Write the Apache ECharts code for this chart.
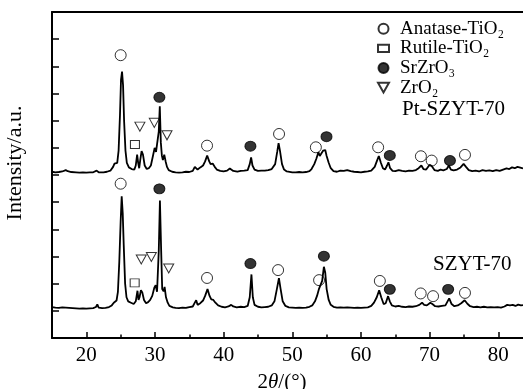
<!DOCTYPE html>
<html>
<head>
<meta charset="utf-8">
<script src="https://cdn.jsdelivr.net/npm/echarts@6/dist/echarts.min.js"></script>
<style>html,body{margin:0;padding:0;background:#fff}#c{width:523px;height:389px}</style>
</head>
<body>
<div id="c"></div>
<script>
// 2θ (degrees) and intensity (a.u., offset stacked) for Pt-SZYT-70
const ptSzyt70 = [
[15.0,6.12],[15.5,6.10],[16.0,6.11],[16.5,6.13],[17.0,6.18],[17.3,6.14],[17.8,6.11],[18.5,6.10],[19.0,6.09],[19.5,6.10],
[20.0,6.09],[20.5,6.10],[21.0,6.10],[21.5,6.16],[21.8,6.10],[22.5,6.10],[23.0,6.12],[23.5,6.16],[23.9,6.30],[24.1,6.42],
[24.3,6.35],[24.5,6.45],[24.7,6.9],[24.9,8.2],[25.05,9.5],[25.2,9.81],[25.35,9.3],[25.5,8.0],[25.7,6.9],[25.9,6.45],
[26.2,6.28],[26.6,6.22],[27.0,6.20],[27.2,6.35],[27.4,6.75],[27.55,6.45],[27.7,6.25],[27.85,6.55],[28.05,6.88],[28.25,6.75],
[28.5,6.35],[28.8,6.22],[29.1,6.25],[29.4,6.35],[29.7,6.70],[29.95,7.0],[30.15,6.85],[30.35,6.80],[30.55,7.6],[30.7,8.53],
[30.85,7.2],[31.0,6.72],[31.15,6.55],[31.35,6.75],[31.55,6.50],[31.75,6.30],[32.0,6.18],[32.5,6.12],[33.0,6.10],[33.5,6.09],
[34.0,6.10],[34.5,6.12],[35.0,6.11],[35.5,6.15],[35.8,6.30],[36.0,6.36],[36.2,6.20],[36.6,6.28],[37.0,6.35],[37.3,6.50],
[37.6,6.72],[37.9,6.50],[38.1,6.40],[38.4,6.42],[38.7,6.30],[39.0,6.20],[39.5,6.15],[40.0,6.13],[40.5,6.16],[40.9,6.24],
[41.1,6.26],[41.4,6.15],[42.0,6.12],[42.5,6.15],[43.0,6.16],[43.5,6.18],[43.8,6.40],[44.0,6.65],[44.2,6.35],[44.5,6.20],
[45.0,6.15],[45.5,6.16],[46.0,6.16],[46.5,6.18],[47.0,6.22],[47.5,6.40],[47.8,6.85],[48.0,7.17],[48.2,6.90],[48.5,6.40],
[48.8,6.20],[49.2,6.13],[50.0,6.10],[50.5,6.10],[51.0,6.11],[51.5,6.10],[52.0,6.11],[52.5,6.14],[52.8,6.22],[53.2,6.40],
[53.5,6.60],[53.8,6.84],[54.0,6.70],[54.2,6.75],[54.5,6.90],[54.8,6.92],[55.0,6.70],[55.3,6.45],[55.6,6.25],[56.0,6.14],
[56.5,6.12],[57.0,6.16],[57.5,6.15],[58.0,6.18],[58.5,6.14],[59.0,6.12],[59.5,6.11],[60.0,6.10],[60.5,6.12],[61.0,6.13],
[61.5,6.16],[62.0,6.30],[62.3,6.50],[62.6,6.70],[62.9,6.45],[63.2,6.25],[63.5,6.20],[63.8,6.35],[64.0,6.47],[64.25,6.25],
[64.6,6.15],[65.0,6.14],[65.5,6.18],[66.0,6.15],[66.5,6.13],[67.0,6.16],[67.5,6.15],[68.0,6.18],[68.4,6.25],[68.8,6.35],
[69.1,6.22],[69.5,6.20],[70.0,6.38],[70.3,6.33],[70.7,6.18],[71.2,6.15],[71.6,6.20],[72.0,6.17],[72.5,6.22],[72.8,6.35],
[73.1,6.20],[73.5,6.17],[74.0,6.20],[74.5,6.28],[74.95,6.41],[75.3,6.30],[75.7,6.18],[76.2,6.14],[76.7,6.16],[77.2,6.13],
[77.7,6.18],[78.2,6.15],[78.7,6.17],[79.2,6.14],[79.7,6.18],[80.2,6.15],[80.7,6.20],[81.2,6.24],[81.6,6.22],[82.0,6.28],
[82.4,6.25],[82.8,6.30],[83.2,6.27],[83.6,6.24]
];
// 2θ (degrees) and intensity for SZYT-70
const szyt70 = [
[15.0,1.14],[15.5,1.12],[16.0,1.11],[16.5,1.13],[17.0,1.12],[17.5,1.11],[18.0,1.10],[18.5,1.09],[19.0,1.08],[19.5,1.09],
[20.0,1.08],[20.5,1.09],[21.0,1.10],[21.4,1.14],[21.6,1.24],[21.8,1.12],[22.3,1.10],[22.8,1.11],[23.3,1.14],[23.7,1.20],
[24.0,1.30],[24.2,1.33],[24.4,1.38],[24.6,1.70],[24.8,2.80],[25.0,4.3],[25.15,5.22],[25.3,4.6],[25.45,3.4],[25.65,2.0],
[25.85,1.50],[26.1,1.35],[26.5,1.30],[26.9,1.25],[27.2,1.35],[27.45,1.74],[27.6,1.40],[27.75,1.50],[27.95,1.76],[28.15,1.68],
[28.4,1.40],[28.7,1.28],[29.0,1.32],[29.3,1.40],[29.6,1.55],[29.9,1.85],[30.1,1.94],[30.3,1.70],[30.55,3.2],[30.72,5.06],
[30.9,3.2],[31.05,1.80],[31.25,1.72],[31.4,1.88],[31.6,1.50],[31.85,1.30],[32.1,1.18],[32.6,1.13],[33.0,1.11],[33.5,1.10],
[34.0,1.12],[34.5,1.11],[35.0,1.14],[35.5,1.16],[35.8,1.30],[36.0,1.39],[36.2,1.22],[36.6,1.28],[37.0,1.38],[37.3,1.55],
[37.65,1.80],[37.95,1.55],[38.2,1.42],[38.5,1.40],[38.8,1.30],[39.2,1.20],[39.7,1.15],[40.2,1.13],[40.7,1.16],[41.1,1.22],
[41.4,1.16],[41.9,1.13],[42.5,1.15],[43.0,1.14],[43.5,1.18],[43.8,1.50],[44.05,2.34],[44.25,1.50],[44.5,1.22],[45.0,1.15],
[45.5,1.13],[46.0,1.14],[46.5,1.15],[47.0,1.20],[47.4,1.35],[47.75,1.80],[48.05,2.20],[48.3,1.80],[48.6,1.35],[49.0,1.18],
[49.5,1.13],[50.0,1.12],[50.5,1.11],[51.0,1.12],[51.5,1.11],[52.0,1.12],[52.5,1.15],[52.9,1.20],[53.3,1.35],[53.6,1.55],
[53.9,1.82],[54.1,1.75],[54.35,2.10],[54.6,2.62],[54.8,2.40],[55.0,1.80],[55.3,1.40],[55.6,1.22],[56.0,1.15],[56.5,1.12],
[57.0,1.13],[57.5,1.12],[58.0,1.13],[58.5,1.12],[59.0,1.11],[59.5,1.12],[60.0,1.11],[60.5,1.12],[61.0,1.13],[61.5,1.18],
[61.9,1.30],[62.3,1.50],[62.65,1.76],[62.95,1.50],[63.3,1.25],[63.6,1.28],[63.95,1.54],[64.2,1.35],[64.5,1.20],[65.0,1.16],
[65.5,1.18],[66.0,1.15],[66.5,1.14],[67.0,1.16],[67.5,1.15],[68.0,1.17],[68.5,1.22],[68.9,1.30],[69.2,1.22],[69.6,1.20],
[70.1,1.30],[70.4,1.25],[70.8,1.17],[71.3,1.16],[71.8,1.18],[72.3,1.20],[72.85,1.46],[73.2,1.25],[73.6,1.17],[74.1,1.20],
[74.6,1.28],[75.1,1.39],[75.5,1.26],[75.9,1.17],[76.4,1.14],[76.9,1.15],[77.4,1.13],[77.9,1.15],[78.4,1.13],[78.9,1.14],
[79.4,1.13],[79.9,1.14],[80.4,1.12],[80.9,1.16],[81.3,1.22],[81.7,1.20],[82.1,1.22],[82.5,1.18],[82.9,1.23],[83.3,1.20],
[83.6,1.21]
];
// phase marker positions [2θ, height]
const anataseMarks = [[25.0,10.41],[37.58,7.08],[48.07,7.51],[53.43,7.02],[62.5,7.02],[68.73,6.69],[70.3,6.53],[75.15,6.74],
  [25.0,5.68],[37.58,2.21],[47.93,2.50],[53.9,2.13],[62.75,2.10],[68.7,1.64],[70.5,1.54],[75.15,1.66]];
const rutileMarks = [[27.08,7.12],[27.04,2.03]];
const srzro3Marks = [[30.64,8.86],[43.9,7.06],[54.98,7.41],[64.2,6.72],[72.96,6.53],
  [30.64,5.49],[43.9,2.74],[54.6,3.01],[64.2,1.79],[72.7,1.79]];
const zro2Marks = [[27.8,7.78],[29.9,7.92],[31.75,7.46],[28.0,2.89],[29.47,2.98],[32.0,2.56]];

const xTicks = [20,30,40,50,60,70,80];
const xMinorTicks = [25,35,45,55,65,75];
const sampleLabels = ['Pt-SZYT-70','SZYT-70'];
const phaseNames = ['Anatase-TiO₂','Rutile-TiO₂','SrZrO₃','ZrO₂'];

const FONT = '"Liberation Serif","Times New Roman",serif';
const chart = echarts.init(document.getElementById('c'), null, {renderer:'canvas'});
const triDown = 'path://M0,0L10,0L5,9Z';
const markStyle = (fill) => ({color: fill, borderColor:'#000', borderWidth:1});

chart.setOption({
  animation:false,
  backgroundColor:'#fff',
  grid:{left:52, top:12, right:0, bottom:51, outerBoundsMode:'none', containLabel:false},
  legend:{
    orient:'vertical', left:377, top:19, padding:0, itemGap:0, itemWidth:11, itemHeight:10,
    textStyle:{fontFamily:FONT, fontSize:19, color:'#000', lineHeight:19.6, padding:[0,0,0,6]},
    data:[
      {name:phaseNames[0], icon:'circle'},
      {name:phaseNames[1], icon:'path://M0,0H12V8H0Z'},
      {name:phaseNames[2], icon:'circle'},
      {name:phaseNames[3], icon:triDown}
    ]
  },
  xAxis:[
    {type:'value', min:15, max:83.6, position:'bottom',
     axisLine:{show:true, lineStyle:{color:'#000', width:2}},
     axisTick:{show:true, inside:true, length:6, lineStyle:{color:'#000', width:1.5}, customValues:xTicks},
     axisLabel:{show:true, customValues:xTicks, fontFamily:FONT, fontSize:21, color:'#000', margin:7},
     splitLine:{show:false},
     name:'{n|2}{i|θ}{n|/(°)}', nameLocation:'middle', nameGap:34,
     nameTextStyle:{padding:[0,11,0,0], rich:{n:{fontFamily:FONT, fontSize:21, color:'#000'}, i:{fontFamily:FONT, fontSize:21, fontStyle:'italic', color:'#000'}}}
    },
    {type:'value', min:15, max:83.6, position:'bottom',
     axisLine:{show:false}, axisLabel:{show:false}, splitLine:{show:false},
     axisTick:{show:true, inside:true, length:3.5, lineStyle:{color:'#000', width:1.5}, customValues:xMinorTicks}
    },
    {type:'value', min:15, max:83.6, position:'top',
     axisLine:{show:true, lineStyle:{color:'#000', width:2}}, axisTick:{show:false}, axisLabel:{show:false}, splitLine:{show:false}
    }
  ],
  yAxis:{type:'value', min:0, max:12, interval:1,
    axisLine:{show:true, lineStyle:{color:'#000', width:2}},
    axisTick:{show:true, inside:true, length:7, lineStyle:{color:'#000', width:1.5}},
    axisLabel:{show:false}, splitLine:{show:false},
    name:'Intensity/a.u.', nameLocation:'middle', nameGap:26,
    nameTextStyle:{fontFamily:FONT, fontSize:22, color:'#000', padding:[0,0,0,24]}
  },
  graphic:[
    {type:'text', left:402, top:99, style:{text:sampleLabels[0], font:'21px '+FONT, fill:'#000'}},
    {type:'text', left:433, top:254, style:{text:sampleLabels[1], font:'21px '+FONT, fill:'#000'}}
  ],
  series:[
    {type:'line', name:sampleLabels[0], data:ptSzyt70, showSymbol:false, lineStyle:{color:'#000', width:1.8}, silent:true},
    {type:'line', name:sampleLabels[1], data:szyt70, showSymbol:false, lineStyle:{color:'#000', width:1.8}, silent:true},
    {type:'scatter', name:phaseNames[0], data:anataseMarks, symbol:'circle', symbolSize:11, itemStyle:markStyle('#fff')},
    {type:'scatter', name:phaseNames[1], data:rutileMarks, symbol:'rect', symbolSize:[9,8], itemStyle:markStyle('#fff')},
    {type:'scatter', name:phaseNames[2], data:srzro3Marks, symbol:'circle', symbolSize:[11,10], itemStyle:markStyle('#000')},
    {type:'scatter', name:phaseNames[3], data:zro2Marks, symbol:triDown, symbolSize:[10,9], itemStyle:markStyle('#fff')}
  ]
});
</script>
</body>
</html>
